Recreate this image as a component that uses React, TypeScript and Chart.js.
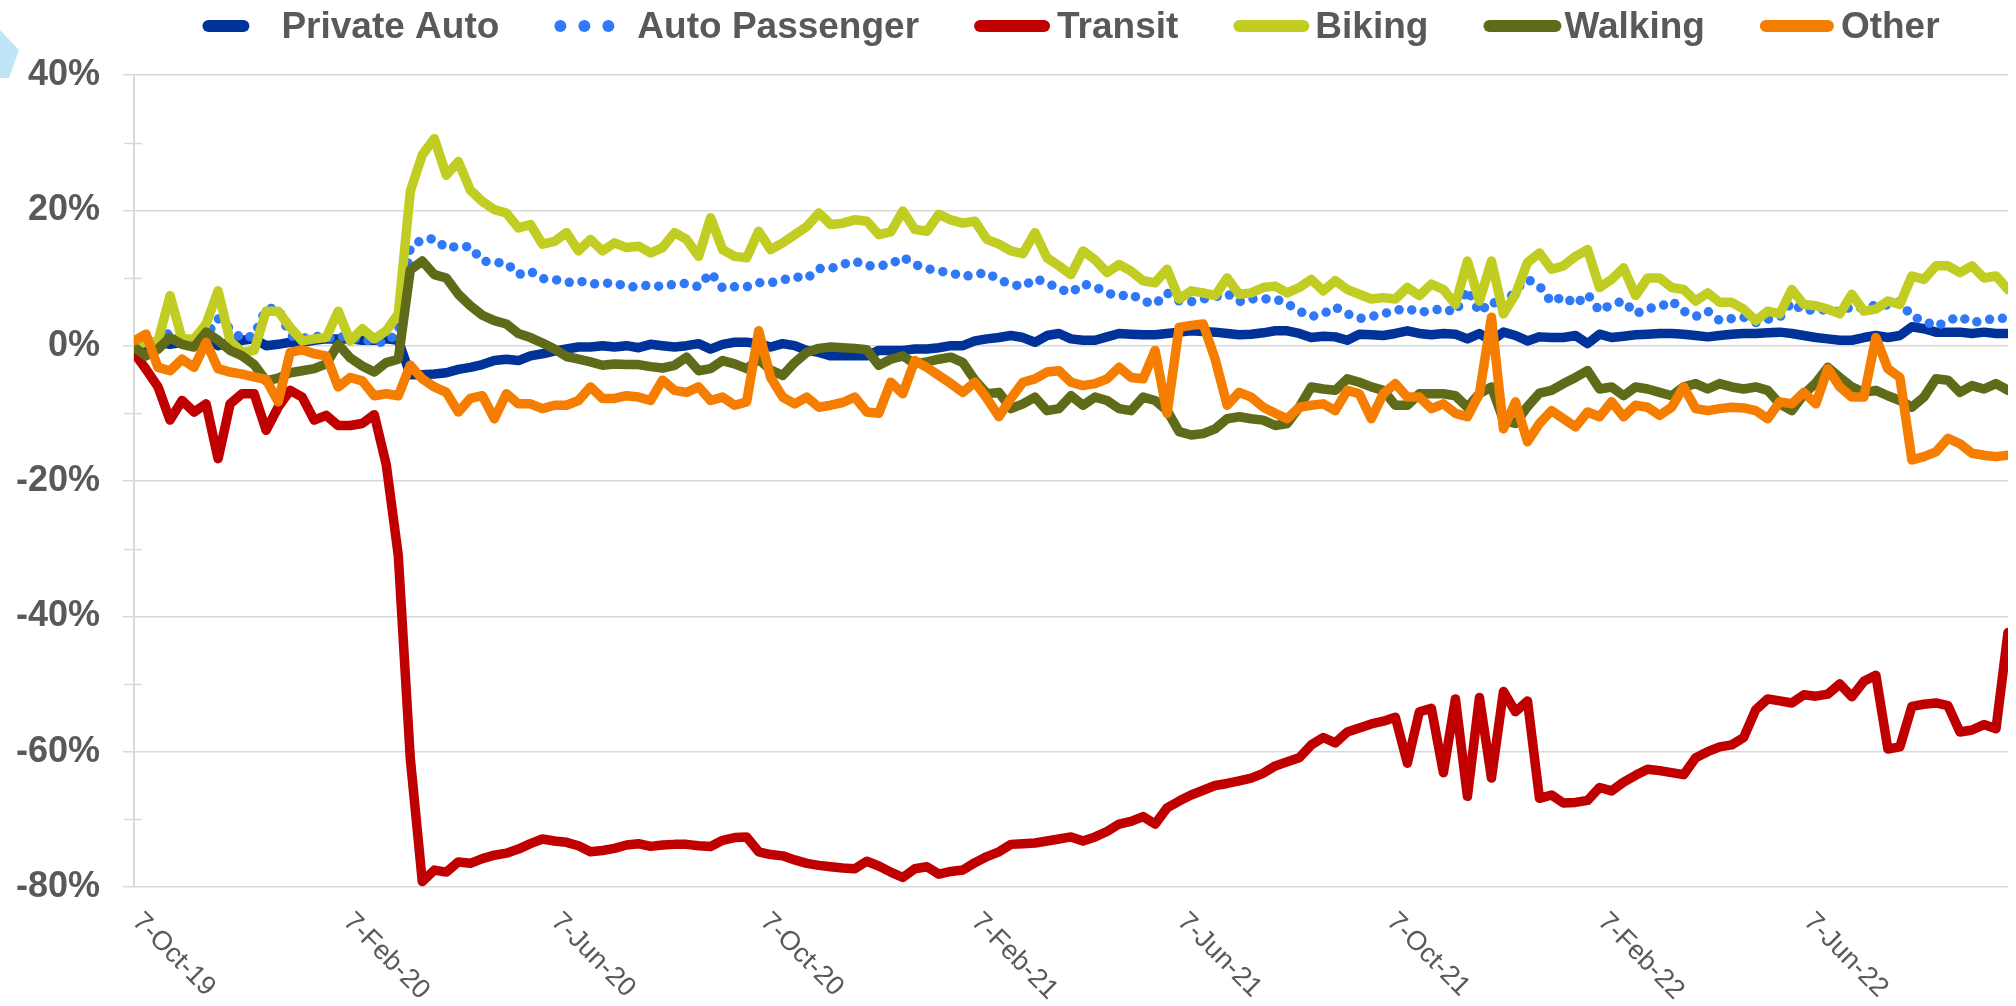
import React, { useEffect, useRef } from 'react';
import { Chart, registerables } from 'chart.js';

Chart.register(...registerables);

// ---------- data ----------
const firstWeek = '2019-10-07'; // weekly observations start (Mondays)
const tickDates = ['2019-10-07', '2020-02-07', '2020-06-07', '2020-10-07', '2021-02-07', '2021-06-07', '2021-10-07', '2022-02-07', '2022-06-07'];
const tickLabels = ['7-Oct-19', '7-Feb-20', '7-Jun-20', '7-Oct-20', '7-Feb-21', '7-Jun-21', '7-Oct-21', '7-Feb-22', '7-Jun-22'];
const yTickValues = [-80, -60, -40, -20, 0, 20, 40];
const yMinorTicks = [-70, -50, -30, -10, 10, 30];

const seriesNames = ['Private Auto', 'Auto Passenger', 'Transit', 'Biking', 'Walking', 'Other'];

const privateAuto = [
  0, 0, 0.5, 0.2, 0.5, 0.8, 1, 0, 0.5, 0.8, 1, 0, 0.2, 0.5, 0.5, 0.8, 1, 1, 1, 0.8,
  0.8, 1, 0.8, -4.3, -4.3, -4.2, -4.0, -3.5, -3.2, -2.8, -2.2, -2.0, -2.2, -1.5, -1.2, -0.8, -0.5, -0.2, -0.2, 0,
  -0.2, 0, -0.3, 0.2, 0, -0.2, 0, 0.3, -0.5, 0.2, 0.5, 0.5, 0.3, -0.2, 0.3, 0, -0.7, -1.0, -1.5, -1.5,
  -1.5, -1.5, -0.7, -0.7, -0.7, -0.5, -0.5, -0.3, 0, 0, 0.7, 1.0, 1.2, 1.5, 1.2, 0.5, 1.5, 1.8, 1.0,
  0.8, 0.8, 1.3, 1.8, 1.7, 1.6, 1.6, 1.8, 2.0, 2.2, 2.1, 2.0, 1.8, 1.6, 1.7, 1.9, 2.2, 2.2, 1.8, 1.2,
  1.4, 1.3, 0.8, 1.7, 1.6, 1.5, 1.8, 2.2, 1.8, 1.6, 1.8, 1.7, 1.0, 1.8, 0.7, 2.0, 1.5, 0.7, 1.3,
  1.2, 1.2, 1.5, 0.3, 1.7, 1.2, 1.4, 1.6, 1.7, 1.8, 1.8, 1.7, 1.5, 1.3, 1.5, 1.7, 1.8, 1.8, 1.9, 2.0,
  1.8, 1.5, 1.2, 1.0, 0.8, 0.8, 1.2, 1.5, 1.2, 1.5, 2.8, 2.5, 2.0, 2.0, 2.0, 1.8, 2.0, 1.8, 1.8,
];

const autoPassenger = [
  0, 1, 0.5, 2, 0.5, 1, 1.5, 4, 2.5, 1, 1.5, 5.5, 5.5, 1.5, 1, 1.5, 1, 1.5, 1, 1,
  0.5, 0.5, 2, 14.5, 15.7, 15.8, 14.4, 14.7, 14.6, 12.5, 12.3, 12.2, 10.5, 11, 9.9, 9.8, 9.3, 9.6, 9.1, 9.2,
  9.3, 8.7, 8.7, 9.0, 8.7, 9.1, 9.2, 8.7, 10.8, 8.5, 8.7, 8.7, 9.3, 9.3, 9.7, 10.2, 9.9, 11.4, 11.4, 12.0,
  12.5, 11.8, 11.8, 12.0, 13.1, 12.0, 11.4, 11.0, 10.8, 10.2, 10.5, 10.8, 9.7, 9.1, 8.7, 9.9, 9.3, 8.4, 7.8,
  9.1, 8.7, 7.8, 7.3, 7.6, 6.6, 6.1, 7.8, 6.6, 6.5, 6.9, 7.2, 7.7, 6.5, 6.9, 6.9, 6.9, 6.2, 5.1, 4.3,
  4.7, 5.7, 4.7, 4.0, 4.3, 4.7, 5.2, 5.5, 4.9, 5.2, 5.5, 4.9, 8.3, 4.9, 6.6, 5.5, 8.3, 9.8, 8.8,
  6.4, 7.3, 6.1, 7.6, 5.1, 6.1, 6.6, 4.7, 5.5, 5.7, 6.6, 5.1, 4.3, 5.1, 3.7, 4.0, 4.2, 3.4, 3.9, 4.2,
  6.4, 5.1, 5.4, 5.2, 5.0, 5.8, 5.5, 6.0, 6.0, 6.5, 4.3, 3.7, 2.8, 3.7, 4.3, 3.4, 3.7, 4.1, 4.0,
];

const transit = [
  -1, -3.5, -6.1, -11, -8.1, -9.8, -8.6, -16.7, -8.6, -7.1, -7.1, -12.5, -9.1, -6.6, -7.6, -11, -10.3, -11.8, -11.8, -11.5,
  -10.2, -17.6, -31, -61, -79.2,
  -77.5, -77.8, -76.3, -76.5, -75.8, -75.3, -75, -74.4, -73.6, -72.9, -73.2, -73.4, -73.9, -74.8, -74.6,
  -74.3, -73.8, -73.6, -74, -73.8, -73.7, -73.7, -73.9, -74, -73.1, -72.7, -72.6, -74.8, -75.2, -75.4,
  -76.0, -76.5, -76.8, -77, -77.2, -77.3, -76.2, -76.9, -77.8, -78.6, -77.3, -77, -78.1, -77.7, -77.5,
  -76.4, -75.5, -74.8, -73.7, -73.6, -73.5, -73.2, -72.9, -72.6,
  -73.2, -72.6, -71.8, -70.7, -70.3, -69.6, -70.7, -68.3, -67.3, -66.4, -65.7, -65, -64.7, -64.3, -63.9,
  -63.2, -62.1, -61.5, -60.9, -59, -57.9, -58.7, -57.1, -56.5, -55.9, -55.5, -54.9, -61.7, -54.1, -53.6,
  -63.1, -52.2, -66.6, -52, -63.9, -51.1, -54.1, -52.5, -66.9, -66.4, -67.6, -67.5, -67.2, -65.3, -65.8,
  -64.5, -63.5, -62.6, -62.8, -63.1, -63.4, -60.9, -60, -59.3, -59, -57.9, -53.8, -52.2, -52.5, -52.8,
  -51.6, -51.8, -51.5, -50, -51.9, -49.6, -48.7, -59.6, -59.3, -53.3, -53, -52.8, -53.2, -57.1, -56.8,
  -56, -56.6, -42.4,
];

const biking = [
  0, 0.5, 0.7, 7.4, 1.0, 1.0, 3.2, 8.1, 0.7, -1.0, -0.7, 5.1, 5.1, 2.7, 0.7, 1.0, 1.2, 5.1, 0.7, 2.5,
  1.0, 2.2, 4.7, 22.8, 28.2, 30.6, 25.2, 27.2, 23.0, 21.3, 20.1, 19.6, 17.4, 17.9, 15.0, 15.4, 16.7, 14.0, 15.7, 14.0,
  15.2, 14.5, 14.7, 13.7, 14.5, 16.7, 15.7, 13.2, 18.9, 14.2, 13.2, 13.0, 16.9, 14.2, 15.2, 16.4, 17.6, 19.6, 17.9, 18.1,
  18.6, 18.4, 16.4, 16.8, 19.9, 17.2, 16.9, 19.4, 18.6, 18.1, 18.4, 15.7, 15.0, 14.0, 13.6, 16.7, 13.0, 11.8, 10.5,
  14.0, 12.7, 10.8, 12.0, 11.0, 9.6, 9.3, 11.3, 6.9, 8.1, 7.8, 7.4, 10.0, 7.6, 7.8, 8.6, 8.8, 7.8, 8.6, 9.8,
  8.1, 9.6, 8.3, 7.6, 6.9, 7.1, 6.9, 8.6, 7.4, 9.1, 8.3, 6.1, 12.5, 6.6, 12.5, 4.7, 7.6, 12.3, 13.7,
  11.3, 11.8, 13.2, 14.2, 8.6, 9.8, 11.5, 7.4, 10.0, 10.0, 8.6, 8.3, 6.6, 7.8, 6.4, 6.4, 5.4, 3.7, 5.1, 4.7,
  8.3, 6.1, 5.9, 5.4, 4.7, 7.6, 5.1, 5.4, 6.6, 6.1, 10.3, 9.8, 11.8, 11.8, 10.8, 11.8, 10.0, 10.3, 8.3,
];

const walking = [
  -0.2, -1.5, -0.5, 1.2, 0.2, -0.2, 2.0, 0.8, -0.7, -1.5, -2.8, -5.2, -4.8, -4.0, -3.7, -3.4, -2.7, 0.2, -1.8, -3.0,
  -3.9, -2.5, -2.0, 11.2, 12.5, 10.5, 10.0, 7.6, 5.9, 4.5, 3.7, 3.2, 1.8, 1.2, 0.4, -0.5, -1.6, -2.0, -2.4, -2.9,
  -2.7, -2.8, -2.8, -3.1, -3.3, -2.9, -1.7, -3.7, -3.4, -2.2, -2.7, -3.4, -2.0, -3.6, -4.4, -2.5, -1.0, -0.4, -0.2, -0.3,
  -0.4, -0.6, -2.9, -2.0, -1.5, -2.7, -2.4, -2.0, -1.7, -2.5, -5.1, -7.1, -6.9, -9.3, -8.6, -7.6, -9.6, -9.3, -7.4,
  -8.8, -7.6, -8.1, -9.3, -9.6, -7.6, -8.1, -9.6, -12.7, -13.2, -13.0, -12.3, -10.8, -10.5, -10.8, -11.0, -11.8, -11.5, -9.1, -6.1,
  -6.4, -6.6, -4.9, -5.4, -6.1, -6.6, -8.8, -8.8, -7.1, -7.1, -7.1, -7.4, -9.1, -7.1, -6.1, -11.0, -11.5, -9.0, -7.0,
  -6.6, -5.6, -4.7, -3.7, -6.4, -6.1, -7.4, -6.1, -6.4, -6.9, -7.4, -6.1, -5.6, -6.4, -5.6, -6.1, -6.4, -6.1, -6.6, -8.6,
  -9.6, -7.2, -5.5, -3.2, -4.7, -6.1, -6.9, -6.6, -7.4, -8.1, -9.1, -7.6, -4.9, -5.1, -6.9, -5.9, -6.4, -5.6, -6.6,
];

const other = [
  0.7, 1.7, -3.2, -3.7, -2.0, -3.2, 0.5, -3.4, -3.9, -4.2, -4.6, -5.0, -8.3, -1.0, -0.6, -1.2, -1.5, -6.1, -4.7, -5.2,
  -7.4, -7.1, -7.4, -2.9, -4.9, -6.1, -6.9, -9.8, -7.8, -7.4, -10.8, -7.1, -8.6, -8.6, -9.3, -8.8, -8.8, -8.1, -6.1, -7.8,
  -7.8, -7.4, -7.6, -8.1, -5.1, -6.6, -6.9, -6.1, -8.1, -7.6, -8.8, -8.3, 2.2, -4.7, -7.6, -8.6, -7.6, -9.1, -8.8, -8.4,
  -7.6, -9.8, -10.0, -5.4, -7.1, -2.2, -3.2, -4.4, -5.6, -6.9, -5.4, -7.8, -10.5, -7.8, -5.4, -4.9, -3.9, -3.7, -5.4,
  -5.9, -5.6, -4.9, -3.2, -4.7, -4.9, -0.7, -10.0, 2.7, 3.0, 3.2, -2.0, -8.8, -6.9, -7.6, -9.1, -10.0, -10.8, -9.1, -8.8,
  -8.6, -9.6, -6.6, -7.1, -10.8, -7.1, -5.6, -7.6, -7.6, -9.3, -8.6, -10.0, -10.5, -7.1, 4.2, -12.3, -8.3, -14.2, -11.5,
  -9.6, -10.8, -12.0, -9.8, -10.5, -8.3, -10.5, -8.8, -9.1, -10.3, -9.1, -6.1, -9.3, -9.6, -9.3, -9.1, -9.2, -9.6, -10.8, -8.3,
  -8.6, -6.9, -8.6, -3.4, -6.1, -7.6, -7.6, 1.2, -3.4, -4.7, -16.9, -16.4, -15.7, -13.7, -14.5, -15.9, -16.2, -16.4, -16.2,
];

// ---------- styling ----------
const COLORS = ['#003399', '#3178F8', '#C00000', '#C2CD23', '#5F6B18', '#F57D00'];
const GREY_TEXT = '#595959';
const GRID = '#d9d9d9';
const FONT = '"Liberation Sans", Arial, sans-serif';

const DAY_MS = 86400000;
const dayOffset = (d: string) => Math.round((Date.parse(d) - Date.parse(firstWeek)) / DAY_MS);
const toPoints = (vals: number[]) => vals.map((v, i) => ({ x: i * 7, y: v }));

const legendSpec = [
  { kind: 'line', len: 47, gap: 32 },
  { kind: 'dots', len: 60, gap: 23 },
  { kind: 'line', len: 76, gap: 7 },
  { kind: 'line', len: 76, gap: 6 },
  { kind: 'line', len: 78, gap: 3 },
  { kind: 'line', len: 74, gap: 7 },
];

const decorPlugin = {
  id: 'decor',
  afterDraw(chart: any) {
    const ctx = chart.ctx as CanvasRenderingContext2D;
    const area = chart.chartArea;
    const xs = chart.scales.x;
    const ys = chart.scales.y;

    ctx.save();
    // light blue fragment at top-left corner
    ctx.fillStyle = '#BEE6F7';
    ctx.beginPath();
    ctx.moveTo(0, 30);
    ctx.lineTo(19, 50);
    ctx.lineTo(9, 78);
    ctx.lineTo(0, 78);
    ctx.closePath();
    ctx.fill();

    // minor ticks crossing the y axis
    ctx.strokeStyle = GRID;
    ctx.lineWidth = 1.5;
    yMinorTicks.forEach((v) => {
      const y = Math.round(ys.getPixelForValue(v)) + 0.5;
      ctx.beginPath();
      ctx.moveTo(area.left - 10, y);
      ctx.lineTo(area.left + 8, y);
      ctx.stroke();
    });

    // rotated x labels
    ctx.fillStyle = GREY_TEXT;
    ctx.font = `27px ${FONT}`;
    ctx.textAlign = 'left';
    ctx.textBaseline = 'top';
    tickDates.forEach((d, i) => {
      const px = xs.getPixelForValue(dayOffset(d));
      ctx.save();
      ctx.translate(px + 12, area.bottom + 21);
      ctx.rotate(Math.PI / 4);
      ctx.fillText(tickLabels[i], 0, 0);
      ctx.restore();
    });

    // legend
    ctx.font = `bold 37px ${FONT}`;
    ctx.textBaseline = 'middle';
    const itemGap = 55;
    const widths = seriesNames.map((n, i) => legendSpec[i].len + legendSpec[i].gap + ctx.measureText(n).width);
    const total = widths.reduce((a, b) => a + b, 0) + itemGap * (seriesNames.length - 1);
    let x = (area.left + area.right) / 2 - total / 2;
    const ly = 26;
    seriesNames.forEach((name, i) => {
      const spec = legendSpec[i];
      ctx.strokeStyle = COLORS[i];
      ctx.fillStyle = COLORS[i];
      if (spec.kind === 'line') {
        ctx.lineWidth = 12;
        ctx.lineCap = 'round';
        ctx.beginPath();
        ctx.moveTo(x + 6, ly);
        ctx.lineTo(x + spec.len - 6, ly);
        ctx.stroke();
      } else {
        [6, 30, 54].forEach((dx) => {
          ctx.beginPath();
          ctx.arc(x + dx, ly, 6, 0, Math.PI * 2);
          ctx.fill();
        });
      }
      ctx.fillStyle = GREY_TEXT;
      ctx.fillText(name, x + spec.len + spec.gap, ly + 2);
      x += widths[i] + itemGap;
    });
    ctx.restore();
  },
};

export default function App() {
  const canvasRef = useRef<HTMLCanvasElement | null>(null);

  useEffect(() => {
    const canvas = canvasRef.current;
    if (!canvas) return;
    const allSeries = [privateAuto, autoPassenger, transit, biking, walking, other];
    const lastDay = (allSeries[0].length - 1) * 7;

    const datasets = allSeries.map((vals, i) => ({
      label: seriesNames[i],
      data: toPoints(vals),
      borderColor: COLORS[i],
      backgroundColor: COLORS[i],
      borderWidth: i === 1 ? 9.5 : 9.5,
      borderJoinStyle: 'round' as const,
      borderCapStyle: 'round' as const,
      borderDash: i === 1 ? [0, 13] : [],
      pointRadius: 0,
      tension: 0,
      fill: false,
      order: allSeries.length - i,
    }));

    const chart = new Chart(canvas, {
      type: 'line',
      data: { datasets },
      options: {
        responsive: false,
        animation: false,
        devicePixelRatio: 1,
        layout: { padding: { top: 75, right: 8, bottom: 119, left: 0 } },
        plugins: { legend: { display: false }, tooltip: { enabled: false } },
        scales: {
          x: { type: 'linear', min: 0, max: lastDay, display: false },
          y: {
            min: -80,
            max: 40,
            afterFit: (s: any) => { s.width = 134; },
            afterBuildTicks: (s: any) => { s.ticks = yTickValues.map((v) => ({ value: v })); },
            ticks: {
              callback: (v: any) => `${v}%`,
              color: GREY_TEXT,
              font: { family: FONT, size: 36, weight: 'bold' },
              padding: 23,
            },
            grid: { color: GRID, lineWidth: 1.5, tickLength: 11, drawTicks: true },
            border: { color: GRID, width: 2 },
          },
        },
      },
      plugins: [decorPlugin],
    } as any);

    return () => chart.destroy();
  }, []);

  return (
    <div style={{ position: 'fixed', left: 0, top: 0, width: 2016, height: 1006, background: '#fff' }}>
      <canvas ref={canvasRef} width={2016} height={1006} style={{ display: 'block' }} />
    </div>
  );
}
